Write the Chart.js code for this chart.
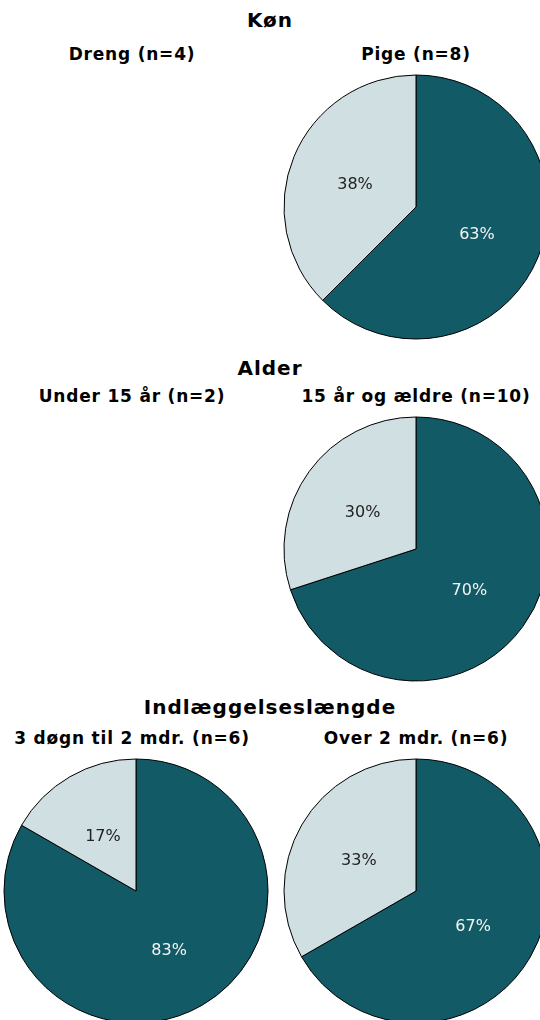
<!DOCTYPE html>
<html lang="da">
<head>
  <meta charset="UTF-8" />
  <title>Køn, alder og indlæggelseslængde</title>
  <script src="https://cdn.jsdelivr.net/npm/chart.js"></script>
  <style>
    html, body {
      margin: 0;
      padding: 0;
      width: 540px;
      height: 1020px;
      overflow: hidden;
      background: #fff;
      font-family: 'DejaVu Sans', Verdana, sans-serif;
      color: #000;
    }
    .t {
      position: absolute;
      font-weight: bold;
      white-space: nowrap;
      transform: translate(-50%, -50%);
    }
    .main { font-size: 20px; letter-spacing: 1px; }
    .sub { font-size: 17px; letter-spacing: 0.8px; }
    .pie {
      position: absolute;
      width: 280px;
      height: 280px;
    }
  </style>
</head>
<body>
  <!-- section titles -->
  <div class="t main" style="left:270px; top:20px;">Køn</div>
  <div class="t sub" style="left:132px; top:54px;">Dreng (n=4)</div>
  <div class="t sub" style="left:416px; top:54px;">Pige (n=8)</div>

  <div class="t main" style="left:270px; top:368px;">Alder</div>
  <div class="t sub" style="left:132px; top:396px;">Under 15 år (n=2)</div>
  <div class="t sub" style="left:416px; top:396px;">15 år og ældre (n=10)</div>

  <div class="t main" style="left:270px; top:707px;">Indlæggelseslængde</div>
  <div class="t sub" style="left:132px; top:738px;">3 døgn til 2 mdr. (n=6)</div>
  <div class="t sub" style="left:416px; top:738px;">Over 2 mdr. (n=6)</div>

  <!-- pies (groups with too few answers are left empty) -->
  <canvas class="pie" id="pige" style="left:276px; top:67px;"></canvas>
  <canvas class="pie" id="aeldre" style="left:276px; top:409px;"></canvas>
  <canvas class="pie" id="kort" style="left:-4px; top:751px;"></canvas>
  <canvas class="pie" id="lang" style="left:276px; top:751px;"></canvas>

  <script>
    // share of answers per group: [dark slice, light slice]
    const pigeValues   = [62.5, 37.5];
    const aeldreValues = [70, 30];
    const kortValues   = [83.3, 16.7];
    const langValues   = [66.7, 33.3];
    const sliceLabels  = ['Ja', 'Nej'];

    const DARK = '#125b66';
    const LIGHT = '#d0dfe2';

    // write the rounded percentage in the middle of every slice
    const pctLabels = {
      id: 'pctLabels',
      afterDatasetsDraw(chart) {
        const ctx = chart.ctx;
        const meta = chart.getDatasetMeta(0);
        const data = chart.data.datasets[0].data;
        ctx.save();
        ctx.font = '16px "DejaVu Sans", Verdana, sans-serif';
        ctx.textAlign = 'center';
        ctx.textBaseline = 'middle';
        meta.data.forEach((arc, i) => {
          const p = arc.tooltipPosition();
          ctx.fillStyle = i === 0 ? '#f4f4f4' : '#222222';
          ctx.fillText(Math.round(data[i]) + '%', p.x, p.y + 3);
        });
        ctx.restore();
      }
    };

    function drawPie(id, values) {
      const ctx = document.getElementById(id).getContext('2d');
      return new Chart(ctx, {
        type: 'pie',
        data: {
          labels: sliceLabels,
          datasets: [{
            data: values,
            backgroundColor: [DARK, LIGHT],
            borderColor: '#000',
            borderWidth: 1
          }]
        },
        options: {
          responsive: false,
          animation: false,
          radius: 132,
          layout: { padding: 0 },
          plugins: {
            legend: { display: false },
            tooltip: { enabled: false }
          }
        },
        plugins: [pctLabels]
      });
    }

    drawPie('pige', pigeValues);
    drawPie('aeldre', aeldreValues);
    drawPie('kort', kortValues);
    drawPie('lang', langValues);
  </script>
</body>
</html>
